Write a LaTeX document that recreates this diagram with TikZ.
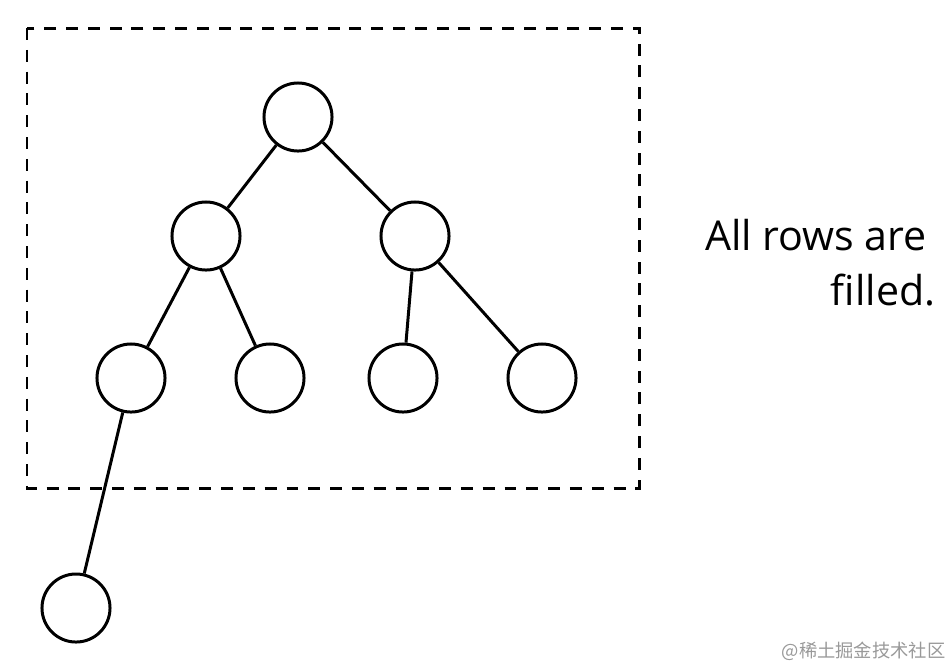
\documentclass[tikz,border=0pt]{standalone}
\usepackage{fontspec}
\setmainfont{Open Sans}
\newfontfamily\cjkfont{Noto Sans CJK SC}
\usetikzlibrary{positioning}

\begin{document}
\begin{tikzpicture}[x=0.01cm, y=-0.01cm,
    vertex/.style={circle, draw, line width=0.85pt, minimum size=0.68cm, inner sep=0pt},
    edge/.style={line width=0.85pt},
    frame/.style={line width=0.85pt, dash pattern=on 3.4pt off 2.8pt},
    note/.style={font=\fontsize{11.7}{15.6}\selectfont, align=right, inner sep=0pt}
  ]
  \useasboundingbox (0,0) rectangle (952,666);

  % heap rows
  \node[vertex] (root) at (298,117) {};
  \node[vertex] (l)    at (206,236) {};
  \node[vertex] (r)    at (415,236) {};
  \node[vertex] (ll)   at (131,378) {};
  \node[vertex] (lr)   at (270,378) {};
  \node[vertex] (rl)   at (403,378) {};
  \node[vertex] (rr)   at (542,378) {};
  \node[vertex] (lll)  at (76,608)  {};

  \draw[edge] (root) -- (l);
  \draw[edge] (root) -- (r);
  \draw[edge] (l) -- (ll);
  \draw[edge] (l) -- (lr);
  \draw[edge] (r) -- (rl);
  \draw[edge] (r) -- (rr);
  \draw[edge] (ll) -- (lll);

  % filled rows
  \draw[frame] (27,28) rectangle (639,488);

  \node[note, anchor=north east] (txt) at (936,219) {All rows are\kern2.4pt\\filled.};

  \node[anchor=east, text=black!40, inner sep=0pt,
        font=\cjkfont\fontsize{5.2}{6}\selectfont] (wm) at (946,651) {@稀土掘金技术社区};
\end{tikzpicture}
\end{document}
